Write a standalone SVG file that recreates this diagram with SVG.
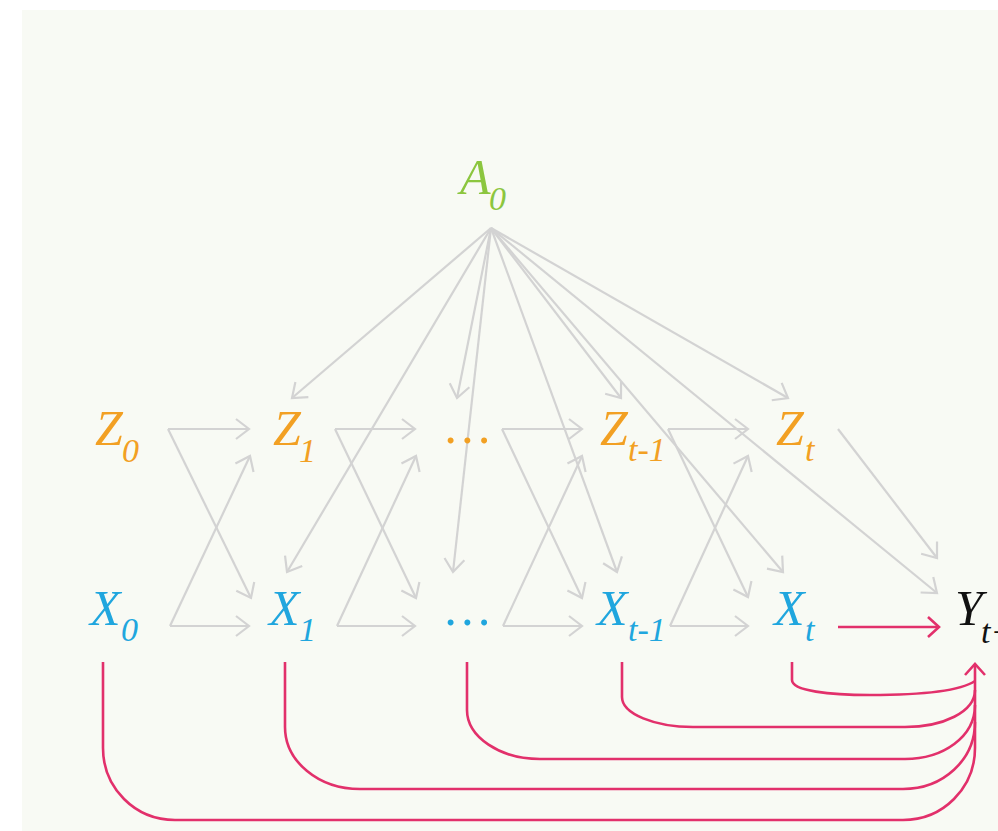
<svg xmlns="http://www.w3.org/2000/svg" width="998" height="831" viewBox="0 0 998 831">
  <style>
    .lbl { font-family: "Liberation Serif", "Times New Roman", serif; font-style: italic; }
    .main { font-size: 50px; }
    .sub { font-size: 34px; }
    .z { fill: #f2a023; }
    .x { fill: #20a6de; }
    .a { fill: #8cc63f; }
    .y { fill: #111111; }
    .edge { fill: none; stroke: #d3d3d3; stroke-width: 2.2; marker-end: url(#grey-head); }
    .path-y { fill: none; stroke: #e2306b; stroke-width: 2.6; }
  </style>
  <defs>
    <marker id="grey-head" markerUnits="userSpaceOnUse" markerWidth="30" markerHeight="30" viewBox="-15 -15 30 30" refX="0" refY="0" orient="auto">
      <path d="M-13,-10 L0,0 L-13,10" fill="none" stroke="#d3d3d3" stroke-width="2.2"/>
    </marker>
    <marker id="pink-head" markerUnits="userSpaceOnUse" markerWidth="30" markerHeight="30" viewBox="-15 -15 30 30" refX="0" refY="0" orient="auto">
      <path d="M-11,-10 L0,0 L-11,10" fill="none" stroke="#e2306b" stroke-width="2.6"/>
    </marker>
  </defs>

  <rect x="0" y="0" width="998" height="831" fill="#ffffff"/>
  <rect x="22" y="10" width="976" height="821" fill="#f8faf4"/>

  <g id="connectors">
    <!-- Z row -->
    <line class="edge" x1="168" y1="429" x2="249" y2="429"/>
    <line class="edge" x1="335" y1="429" x2="415" y2="429"/>
    <line class="edge" x1="502" y1="429" x2="582" y2="429"/>
    <line class="edge" x1="668" y1="429" x2="748" y2="429"/>
    <!-- X row -->
    <line class="edge" x1="170" y1="626" x2="249" y2="626"/>
    <line class="edge" x1="337" y1="626" x2="415" y2="626"/>
    <line class="edge" x1="503" y1="626" x2="582" y2="626"/>
    <line class="edge" x1="670" y1="626" x2="748" y2="626"/>
    <!-- Z_i to X_i+1 -->
    <line class="edge" x1="168" y1="429" x2="251" y2="598"/>
    <line class="edge" x1="335" y1="429" x2="416" y2="598"/>
    <line class="edge" x1="502" y1="429" x2="582" y2="598"/>
    <line class="edge" x1="668" y1="429" x2="748" y2="597"/>
    <!-- X_i to Z_i+1 -->
    <line class="edge" x1="170" y1="626" x2="250" y2="456"/>
    <line class="edge" x1="337" y1="626" x2="416" y2="456"/>
    <line class="edge" x1="503" y1="626" x2="582" y2="456"/>
    <line class="edge" x1="670" y1="626" x2="748" y2="456"/>
    <!-- A0 fan-out -->
    <line class="edge" x1="491" y1="228" x2="292" y2="398"/>
    <line class="edge" x1="491" y1="228" x2="287" y2="572"/>
    <line class="edge" x1="491" y1="228" x2="457" y2="398"/>
    <line class="edge" x1="491" y1="228" x2="453" y2="572"/>
    <line class="edge" x1="491" y1="228" x2="621" y2="398"/>
    <line class="edge" x1="491" y1="228" x2="617" y2="572"/>
    <line class="edge" x1="491" y1="228" x2="788" y2="398"/>
    <line class="edge" x1="491" y1="228" x2="783" y2="572"/>
    <line class="edge" x1="491" y1="228" x2="937" y2="593"/>
    <!-- Z_t to Y -->
    <line class="edge" x1="838" y1="429" x2="937" y2="558"/>

    <!-- X_t to Y -->
    <line class="path-y" x1="838" y1="627" x2="939" y2="627" marker-end="url(#pink-head)"/>
    <!-- long paths from each X into Y -->
    <path class="path-y" d="M103,662 V748 C103,788 135,820 175,820 H903 C943,820 975,788 975,748"/>
    <path class="path-y" d="M285,662 V727 C285,761 318,789 360,789 H903 C943,789 975,760 975,722"/>
    <path class="path-y" d="M467,662 V710 C467,737 500,759 540,759 H905 C943,759 975,737 975,705"/>
    <path class="path-y" d="M622,662 V697 C622,714 655,727 693,727 H905 C943,727 975,712 975,690"/>
    <path class="path-y" d="M792,662 V680 C792,691 830,695 870,695 C920,695 960,691 975,681"/>
    <line class="path-y" x1="975" y1="748" x2="975" y2="664" marker-end="url(#pink-head)"/>
  </g>

  <g id="A0" class="lbl a">
    <text class="main" x="460" y="194">A</text>
    <text class="sub" x="489" y="210">0</text>
  </g>
  <g id="Z0" class="lbl z">
    <text class="main" x="95" y="445">Z</text>
    <text class="sub" x="122" y="462">0</text>
  </g>
  <g id="Z1" class="lbl z">
    <text class="main" x="273" y="445">Z</text>
    <text class="sub" x="299" y="462">1</text>
  </g>
  <g id="Zdots" class="lbl z">
    <text class="main" x="446" y="443">…</text>
  </g>
  <g id="Zt-1" class="lbl z">
    <text class="main" x="600" y="445">Z</text>
    <text class="sub" x="628" y="461">t-1</text>
  </g>
  <g id="Zt" class="lbl z">
    <text class="main" x="776" y="445">Z</text>
    <text class="sub" x="805" y="461">t</text>
  </g>
  <g id="X0" class="lbl x">
    <text class="main" x="90" y="625">X</text>
    <text class="sub" x="121" y="641">0</text>
  </g>
  <g id="X1" class="lbl x">
    <text class="main" x="269" y="625">X</text>
    <text class="sub" x="299" y="641">1</text>
  </g>
  <g id="Xdots" class="lbl x">
    <text class="main" x="446" y="625">…</text>
  </g>
  <g id="Xt-1" class="lbl x">
    <text class="main" x="597" y="625">X</text>
    <text class="sub" x="628" y="641">t-1</text>
  </g>
  <g id="Xt" class="lbl x">
    <text class="main" x="774" y="625">X</text>
    <text class="sub" x="805" y="641">t</text>
  </g>
  <g id="Yt1" class="lbl y">
    <text class="main" x="955" y="625">Y</text>
    <text class="sub" x="981" y="643">t+1</text>
  </g>
</svg>
